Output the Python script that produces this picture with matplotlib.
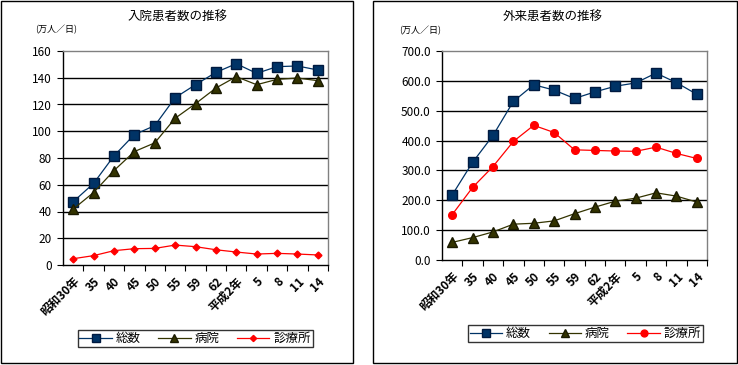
import matplotlib
matplotlib.use("Agg")
import matplotlib.pyplot as plt
from matplotlib.patches import Rectangle
from matplotlib.ticker import FuncFormatter, MultipleLocator

plt.rcParams['font.family'] = ['Noto Sans CJK JP', 'DejaVu Sans']

categories = ["昭和30年", "35", "40", "45", "50", "55", "59", "62", "平成2年", "5", "8", "11", "14"]

in_total = [47.3, 61.0, 81.6, 97.5, 104.2, 125.1, 134.8, 144.0, 150.5, 143.3, 148.3, 148.8, 145.8]
in_hosp = [41.8, 54.2, 70.6, 84.8, 91.3, 109.7, 120.6, 132.3, 140.8, 134.8, 138.8, 139.8, 137.8]
in_clinic = [4.7, 7.0, 10.7, 12.2, 12.4, 14.9, 13.7, 11.4, 9.7, 8.2, 8.7, 8.2, 7.5]

out_total = [218, 327, 417, 531, 587, 569, 541, 563, 582, 593, 626, 594, 555]
out_hosp = [59, 75, 94, 120, 123, 131, 155, 177, 197, 207, 225, 214, 194]
out_clinic = [152, 243, 313, 397, 451, 427, 369, 367, 365, 364, 378, 357, 340]

series_names = ["総数", "病院", "診療所"]
titles = ["入院患者数の推移", "外来患者数の推移"]
unit_label = "(万人／日)"

W, H = 738, 365
fig = plt.figure(figsize=(W / 100, H / 100), dpi=100)

def px_rect(x0, y0, x1, y1):
    return [x0 / W, 1 - y1 / H, (x1 - x0) / W, (y1 - y0) / H]

# panel borders
for (x0, y0, x1, y1) in [(0.5, 0.5, 353, 363), (373, 1, 737, 363)]:
    fig.patches.append(Rectangle((x0 / W, 1 - y1 / H), (x1 - x0) / W, (y1 - y0) / H,
                                 transform=fig.transFigure, fill=False, edgecolor='black',
                                 linewidth=1.0))

c_total = '#003366'
c_hosp = '#333300'
c_clinic = '#FF0000'

def setup(ax, ymax, ystep, fmt):
    x = list(range(len(categories)))
    ax.set_xlim(-0.5, len(categories) - 0.5)
    ax.set_ylim(0, ymax)
    ax.yaxis.set_major_locator(MultipleLocator(ystep))
    ax.yaxis.set_major_formatter(FuncFormatter(fmt))
    for v in range(ystep, ymax, ystep):
        ax.axhline(v, color='black', linewidth=1.0, zorder=1)
    ax.spines['top'].set_color('#808080')
    ax.spines['right'].set_color('#808080')
    for s in ax.spines.values():
        s.set_linewidth(1.0)
    ax.set_xticks(x)
    ax.set_xticklabels(categories, rotation=45, ha='right', va='top',
                       rotation_mode='anchor', fontsize=8.5, fontweight='bold')
    ax.set_xticks([i - 0.5 for i in range(1, len(categories) + 1)], minor=True)
    ax.tick_params(axis='x', which='major', length=0, pad=7)
    ax.tick_params(axis='x', which='minor', length=4, width=0.8, direction='out')
    ax.tick_params(axis='y', length=4, width=0.8, labelsize=8.5, pad=4)
    return x

# left chart
axL = fig.add_axes(px_rect(63, 51, 328, 265))
x = setup(axL, 160, 20, lambda v, p: f"{v:.0f}")
hL = []
hL += axL.plot(x, in_total, color=c_total, lw=0.9, marker='s', ms=6.5, mfc=c_total, mec='#001a40', zorder=3)
hL += axL.plot(x, in_hosp, color=c_hosp, lw=0.9, marker='^', ms=6.5, mfc=c_hosp, mec='#1a1a00', zorder=3)
hL += axL.plot(x, in_clinic, color=c_clinic, lw=0.9, marker='D', ms=3.5, mfc=c_clinic, mec=c_clinic, zorder=3)

# right chart
axR = fig.add_axes(px_rect(442, 51, 707, 260))
x = setup(axR, 700, 100, lambda v, p: f"{v:.1f}")
hR = []
hR += axR.plot(x, out_total, color=c_total, lw=0.9, marker='s', ms=6.5, mfc=c_total, mec='#001a40', zorder=3)
hR += axR.plot(x, out_hosp, color=c_hosp, lw=0.9, marker='^', ms=6.5, mfc=c_hosp, mec='#1a1a00', zorder=3)
hR += axR.plot(x, out_clinic, color=c_clinic, lw=0.9, marker='o', ms=5.5, mfc=c_clinic, mec=c_clinic, zorder=3)

# titles and unit labels
fig.text(178 / W, 1 - 16 / H, titles[0], ha='center', va='center', fontsize=9)
fig.text(553 / W, 1 - 16 / H, titles[1], ha='center', va='center', fontsize=9)
fig.text(35 / W, 1 - 30 / H, unit_label, ha='left', va='center', fontsize=6.5)
fig.text(399 / W, 1 - 31 / H, unit_label, ha='left', va='center', fontsize=6.5)

# legends
for handles, (x0, y0, x1, y1) in [(hL, (79, 332, 311, 345)), (hR, (477, 326, 694, 341))]:
    leg = fig.legend(handles, series_names, loc='center',
                     bbox_to_anchor=((x0 + x1) / 2 / W, 1 - (y0 + y1) / 2 / H),
                     ncol=3, fontsize=9, frameon=True, fancybox=False,
                     edgecolor='black', borderpad=0.15, handlelength=2.6,
                     handletextpad=0.3, columnspacing=1.4, borderaxespad=0,
                     markerscale=0.9)
    leg.get_frame().set_linewidth(1.0)

fig.savefig("out.png", dpi=100)
